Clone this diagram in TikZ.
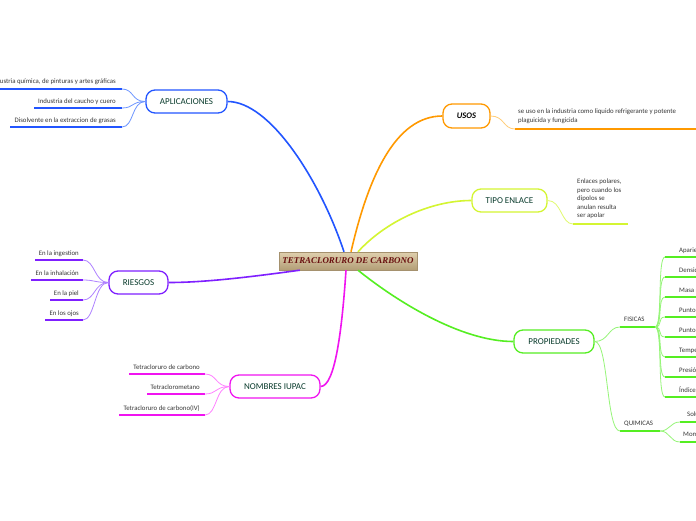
\documentclass[tikz,border=0pt]{standalone}
\usepackage{fontspec}
\setmainfont{Carlito}
\newfontfamily\serifbi{Liberation Serif}
\usetikzlibrary{calc}
\definecolor{blueC}{RGB}{34,85,255}
\definecolor{blueL}{RGB}{110,150,255}
\definecolor{orangeC}{RGB}{255,153,0}
\definecolor{orangeL}{RGB}{255,205,120}
\definecolor{yellowC}{RGB}{212,245,50}
\definecolor{yellowL}{RGB}{225,250,110}
\definecolor{purpleC}{RGB}{127,31,255}
\definecolor{purpleL}{RGB}{175,130,255}
\definecolor{magC}{RGB}{240,20,240}
\definecolor{magL}{RGB}{255,130,255}
\definecolor{greenC}{RGB}{85,238,34}
\definecolor{greenL}{RGB}{150,245,120}
\definecolor{txtG}{RGB}{10,60,45}
\definecolor{leafT}{RGB}{55,55,55}
\definecolor{redT}{RGB}{105,15,15}
\begin{document}
\begin{tikzpicture}[x=1pt,y=-1pt,
  mainbox/.style={draw, line width=1.3pt, rounded corners=9pt, fill=white,
    minimum height=23pt, inner sep=0pt, font=\fontsize{9}{10}\selectfont, text=txtG},
  leaf/.style={font=\fontsize{6.8}{8.5}\selectfont, text=leafT, inner sep=0pt},
  ul/.style={line width=1.8pt},
  lk/.style={line width=0.8pt},
  br/.style={line width=1.6pt}]
\clip (0,0) rectangle (696,520);
\fill[white] (0,0) rectangle (696,520);

% center
\node[draw={rgb,255:red,165;green,145;blue,110}, line width=0.4pt,
  top color={rgb,255:red,224;green,208;blue,174}, bottom color={rgb,255:red,178;green,157;blue,118},
  minimum width=138pt, minimum height=18pt, inner sep=0pt,
  font=\serifbi\bfseries\itshape\fontsize{8.9}{10}\selectfont, text=redT] (c) at (348,261) {TETRACLORURO DE CARBONO};

% main nodes
\node[mainbox, draw=blueC, minimum width=81pt] (apl) at (186.5,101.5) {APLICACIONES};
\node[mainbox, draw=orangeC, minimum width=47pt, minimum height=24pt, text=black, font=\fontsize{8.5}{10}\selectfont\bfseries\itshape] (usos) at (466.5,116) {USOS};
\node[mainbox, draw=yellowC, minimum width=75pt] (tipo) at (509.5,200.5) {TIPO ENLACE};
\node[mainbox, draw=purpleC, minimum width=59pt] (ries) at (138.5,282.5) {RIESGOS};
\node[mainbox, draw=magC, minimum width=90pt] (nom) at (275,386.5) {NOMBRES IUPAC};
\node[mainbox, draw=greenC, minimum width=80pt] (prop) at (554,341.5) {PROPIEDADES};

% main branches
\draw[br, blueC] ($(c.north)+(-4,0)$) .. controls (320,180) and (270,101.5) .. (apl.east);
\draw[br, orangeC] ($(c.north)+(3,0)$) .. controls (368,178) and (395,116) .. (usos.west);
\draw[br, yellowC] ($(c.north)+(10,0)$) .. controls (385,222) and (430,200.5) .. (tipo.west);
\draw[br, purpleC] ($(c.south west)+(21,0)$) .. controls (250,277) and (205,282.5) .. (ries.east);
\draw[br, magC] ($(c.south)+(-2,0)$) .. controls (342,330) and (335,386.5) .. (nom.east);
\draw[br, greenC] ($(c.south)+(10,0)$) .. controls (395,300) and (460,341.5) .. (prop.west);

% APLICACIONES leaves
\coordinate (a1) at (122,89);
\coordinate (a2) at (122,108);
\coordinate (a3) at (122,127);
\node[leaf, anchor=base east] (a1t) at (116,83.5) {Industria química, de pinturas y artes gráficas};
\node[leaf, anchor=base east] (a2t) at (116,103) {Industria del caucho y cuero};
\node[leaf, anchor=base east] (a3t) at (116,122.5) {Disolvente en la extraccion de grasas};
\foreach \k in {1,2,3}{
  \draw[ul, blueC] (a\k) -- (a\k -| a\k t.west) -- ++(-4,0);
  \draw[lk, blueL] (apl.west) .. controls +(-14,0) and +(12,0) .. (a\k);
}

% USOS leaf
\coordinate (u1) at (515,129);
\node[leaf, anchor=north west, align=left, font=\fontsize{6.8}{9.5}\selectfont] (u1t) at (518,108.5) {se uso en la industria como liquido refrigerante y potente\\plaguicida y fungicida};
\draw[ul, orangeC] (u1) -- ++(200,0);
\draw[lk, orangeL] (usos.east) .. controls +(14,0) and +(-12,0) .. (u1);

% TIPO ENLACE leaf
\coordinate (t1) at (573,224);
\node[leaf, anchor=north west, align=left, font=\fontsize{6.8}{8.4}\selectfont] (t1t) at (577,179) {Enlaces polares,\\pero cuando los\\dipolos se\\anulan resulta\\ser apolar};
\draw[ul, yellowC] (t1) -- (628,224);
\draw[lk, yellowL] (tipo.east) .. controls +(14,0) and +(-12,0) .. (t1);

% RIESGOS leaves
\coordinate (r1) at (83,260);
\coordinate (r2) at (83,280);
\coordinate (r3) at (83,300);
\coordinate (r4) at (83,320);
\node[leaf, anchor=base east] (r1t) at (79,255.5) {En la ingestion};
\node[leaf, anchor=base east] (r2t) at (79,275.5) {En la inhalación};
\node[leaf, anchor=base east] (r3t) at (79,295.5) {En la piel};
\node[leaf, anchor=base east] (r4t) at (79,315.5) {En los ojos};
\foreach \k in {1,2,3,4}{
  \draw[ul, purpleC] (r\k) -- (r\k -| r\k t.west) -- ++(-4,0);
  \draw[lk, purpleL] (ries.west) .. controls +(-14,0) and +(12,0) .. (r\k);
}

% NOMBRES IUPAC leaves
\coordinate (n1) at (205,374);
\coordinate (n2) at (205,394);
\coordinate (n3) at (205,415);
\node[leaf, anchor=base east] (n1t) at (200,369.5) {Tetracloruro de carbono};
\node[leaf, anchor=base east] (n2t) at (200,389.5) {Tetraclorometano};
\node[leaf, anchor=base east] (n3t) at (200,410) {Tetracloruro de carbono(IV)};
\foreach \k in {1,2,3}{
  \draw[ul, magC] (n\k) -- (n\k -| n\k t.west) -- ++(-4,0);
  \draw[lk, magL] (nom.west) .. controls +(-14,0) and +(12,0) .. (n\k);
}

% PROPIEDADES
\coordinate (fisL) at (620,327);
\coordinate (fisR) at (655,327);
\coordinate (quiL) at (620,431);
\coordinate (quiR) at (660,431);
\node[leaf, anchor=base west] (fist) at (624,321.5) {FISICAS};
\node[leaf, anchor=base west] (quit) at (624,425.5) {QUIMICAS};
\draw[ul, greenC] (fisL) -- (fisR);
\draw[ul, greenC] (quiL) -- (quiR);
\draw[lk, greenL] (prop.east) .. controls +(14,0) and +(-12,0) .. (fisL);
\draw[lk, greenL] (prop.east) .. controls +(14,0) and +(-14,0) .. (quiL);

\foreach \k/\t in {1/Apariencia,2/Densidad,3/Masa molar,4/Punto de fusión,5/Punto de ebullición,6/Temperatura crítica,7/Presión de vapor,8/Índice de refracción}{
  \coordinate (f\k) at (665,{237+20*\k});
  \node[leaf, anchor=base west] (f\k t) at (679,{232+20*\k}) {\t};
  \draw[ul, greenC] (f\k) -- ++(40,0);
  \draw[lk, greenL] (fisR) .. controls +(8,0) and +(-8,0) .. (f\k);
}
\coordinate (q1) at (680,422);
\coordinate (q2) at (680,442);
\node[leaf, anchor=base west] (q1t) at (687,416.5) {Solubilidad en agua};
\node[leaf, anchor=base west] (q2t) at (683,436.5) {Momento dipolar};
\draw[ul, greenC] (q1) -- ++(40,0);
\draw[ul, greenC] (q2) -- ++(40,0);
\draw[lk, greenL] (quiR) .. controls +(10,0) and +(-10,0) .. (q1);
\draw[lk, greenL] (quiR) .. controls +(10,0) and +(-10,0) .. (q2);
\end{tikzpicture}
\end{document}
